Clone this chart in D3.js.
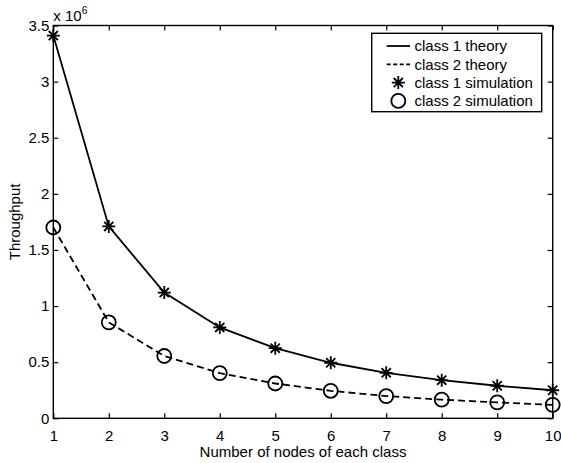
<!DOCTYPE html>
<html>
<head>
<meta charset="utf-8">
<style>
  body { margin: 0; background: #fff; }
  svg text { font-family: "Liberation Sans", Arial, sans-serif; fill: #000; }
</style>
</head>
<body>
<script src="https://cdn.jsdelivr.net/npm/d3@7/dist/d3.min.js"></script>
<script>
// data
var nodes = [1, 2, 3, 4, 5, 6, 7, 8, 9, 10];
var class1Theory = [3.41e6, 1.71e6, 1.12e6, 0.81e6, 0.625e6, 0.495e6, 0.405e6, 0.34e6, 0.29e6, 0.25e6];
var class2Theory = [1.70e6, 0.855e6, 0.555e6, 0.403e6, 0.31e6, 0.245e6, 0.198e6, 0.166e6, 0.142e6, 0.12e6];
var class1Sim = [3.41e6, 1.71e6, 1.12e6, 0.81e6, 0.625e6, 0.495e6, 0.405e6, 0.34e6, 0.29e6, 0.25e6];
var class2Sim = [1.70e6, 0.855e6, 0.555e6, 0.403e6, 0.31e6, 0.245e6, 0.198e6, 0.166e6, 0.142e6, 0.12e6];
var yTicks = [0, 0.5e6, 1e6, 1.5e6, 2e6, 2.5e6, 3e6, 3.5e6];
var legendLabels = ["class 1 theory", "class 2 theory", "class 1 simulation", "class 2 simulation"];

var width = 561, height = 463;
var margin = {left: 53.3, right: 8.3, top: 25.5, bottom: 44.7};
var fontSize = 15;
var lw = 1.8;

var svg = d3.select("body").append("svg")
    .attr("width", width)
    .attr("height", height);

svg.append("rect").attr("width", width).attr("height", height).attr("fill", "#fff");

var x = d3.scaleLinear().domain([1, 10]).range([margin.left, width - margin.right]);
var y = d3.scaleLinear().domain([0, 3.5e6]).range([height - margin.bottom, margin.top]);

var fmt = function(d) { return d / 1e6; };

// axes, ticks inside like matlab
var bottom = svg.append("g")
    .attr("transform", "translate(0," + y(0) + ")")
    .call(d3.axisBottom(x).tickValues(nodes).tickSizeInner(-5).tickSizeOuter(0).tickPadding(12));
var top = svg.append("g")
    .attr("transform", "translate(0," + y(3.5e6) + ")")
    .call(d3.axisTop(x).tickValues(nodes).tickSizeInner(-5).tickSizeOuter(0).tickFormat(""));
var left = svg.append("g")
    .attr("transform", "translate(" + x(1) + ",0)")
    .call(d3.axisLeft(y).tickValues(yTicks).tickSizeInner(-5).tickSizeOuter(0).tickPadding(4).tickFormat(fmt));
var right = svg.append("g")
    .attr("transform", "translate(" + x(10) + ",0)")
    .call(d3.axisRight(y).tickValues(yTicks).tickSizeInner(-5).tickSizeOuter(0).tickFormat(""));

svg.selectAll(".domain").remove();
svg.selectAll(".tick line").attr("stroke", "#000").attr("stroke-width", 1.2);
svg.selectAll(".tick text").attr("font-size", fontSize).attr("font-family", null);

svg.append("rect")
    .attr("x", x(1)).attr("y", y(3.5e6))
    .attr("width", x(10) - x(1)).attr("height", y(0) - y(3.5e6))
    .attr("fill", "none").attr("stroke", "#000").attr("stroke-width", 1.4);

// x 10^6 multiplier
var mult = svg.append("text")
    .attr("x", x(1)).attr("y", y(3.5e6) - 5)
    .attr("font-size", fontSize);
mult.append("tspan").text("x 10");
mult.append("tspan").attr("dy", -7).attr("font-size", 10).text("6");

// labels
svg.append("text")
    .attr("x", (x(1) + x(10)) / 2).attr("y", 457)
    .attr("text-anchor", "middle").attr("font-size", fontSize)
    .text("Number of nodes of each class");

svg.append("text")
    .attr("transform", "translate(20," + (y(0) + y(3.5e6)) / 2 + ") rotate(-90)")
    .attr("text-anchor", "middle").attr("font-size", fontSize)
    .text("Throughput");

// lines
var line = d3.line()
    .x(function(d, i) { return x(nodes[i]); })
    .y(function(d) { return y(d); });

svg.append("path").datum(class1Theory)
    .attr("d", line).attr("fill", "none")
    .attr("stroke", "#000").attr("stroke-width", lw);

svg.append("path").datum(class2Theory)
    .attr("d", line).attr("fill", "none")
    .attr("stroke", "#000").attr("stroke-width", lw)
    .attr("stroke-dasharray", "7,4");

// star marker = plus + cross
function star(g, cx, cy) {
  var a = 6.5, b = 4.6;
  g.append("path")
    .attr("d", "M" + (cx - a) + "," + cy + "h" + 2 * a +
               "M" + cx + "," + (cy - a) + "v" + 2 * a +
               "M" + (cx - b) + "," + (cy - b) + "l" + 2 * b + "," + 2 * b +
               "M" + (cx - b) + "," + (cy + b) + "l" + 2 * b + "," + (-2 * b))
    .attr("stroke", "#000").attr("stroke-width", lw).attr("fill", "none");
}

var stars = svg.append("g");
class1Sim.forEach(function(d, i) { star(stars, x(nodes[i]), y(d)); });

svg.append("g").selectAll("circle")
    .data(class2Sim)
  .enter().append("circle")
    .attr("cx", function(d, i) { return x(nodes[i]); })
    .attr("cy", function(d) { return y(d); })
    .attr("r", 7)
    .attr("fill", "none").attr("stroke", "#000").attr("stroke-width", lw);

// legend
var lg = svg.append("g");
lg.append("rect")
    .attr("x", 371.7).attr("y", 33.3)
    .attr("width", 170).attr("height", 78.4)
    .attr("fill", "#fff").attr("stroke", "#000").attr("stroke-width", 1.4);

var rowY = function(i) { return 46 + i * 18.3; };

lg.append("line").attr("x1", 386.7).attr("x2", 410).attr("y1", rowY(0)).attr("y2", rowY(0))
    .attr("stroke", "#000").attr("stroke-width", lw);
lg.append("line").attr("x1", 386.7).attr("x2", 410).attr("y1", rowY(1)).attr("y2", rowY(1))
    .attr("stroke", "#000").attr("stroke-width", lw).attr("stroke-dasharray", "4,2.5");
star(lg, 398.3, rowY(2));
lg.append("circle").attr("cx", 398.3).attr("cy", rowY(3)).attr("r", 7)
    .attr("fill", "none").attr("stroke", "#000").attr("stroke-width", lw);

lg.selectAll("text.lab")
    .data(legendLabels)
  .enter().append("text")
    .attr("class", "lab")
    .attr("x", 414.5)
    .attr("y", function(d, i) { return rowY(i); })
    .attr("dy", "0.35em")
    .attr("font-size", fontSize)
    .text(function(d) { return d; });
</script>
</body>
</html>
